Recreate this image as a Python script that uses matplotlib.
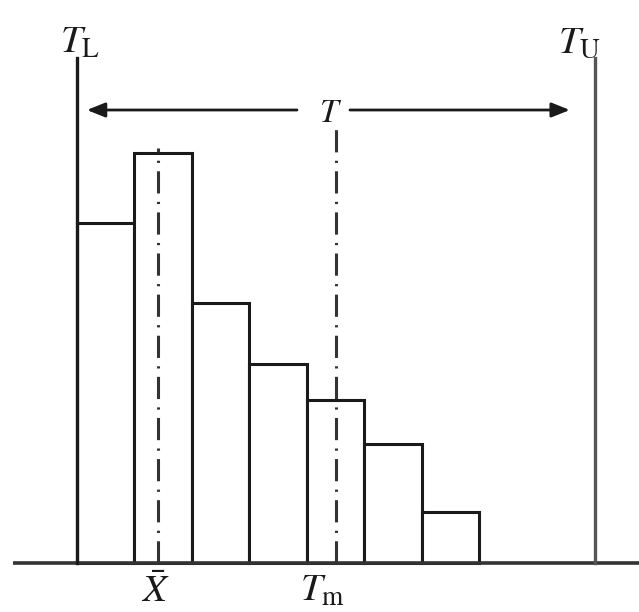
import numpy as np
import matplotlib.pyplot as plt

plt.rcParams['mathtext.fontset'] = 'stix'
plt.rcParams['lines.scale_dashes'] = False

# histogram bins (bin width = 1) and heights
edges = [0, 1, 2, 3, 4, 5, 6, 7]
heights = [34.0, 41.0, 26.0, 19.9, 16.3, 11.9, 5.1]

# tolerance limits, centre and mean
T_L = 0.0
T_U = 9.0
T_m = (T_L + T_U) / 2
X_bar = 1.42

fig = plt.figure(figsize=(6.39, 6.12), dpi=100)
ax = fig.add_axes([0, 0, 1, 1])
ax.set_xlim(-1.329, 9.771)
ax.set_ylim(-4.9, 56.3)
ax.axis('off')

ink = '#1a1a1a'
lw = 2.2

# bars
widths = np.diff(edges)
ax.bar(edges[:-1], heights, width=widths, align='edge',
       facecolor='white', edgecolor=ink, linewidth=lw, zorder=2)

# baseline
ax.plot([-1.1, 9.771], [0, 0], color='#333333', lw=2.6, zorder=3,
        solid_capstyle='butt')

# tolerance limit lines
ax.plot([T_L, T_L], [0, 50.5], color=ink, lw=2.4, zorder=3)
ax.plot([T_U, T_U], [0, 50.5], color='#555555', lw=2.4, zorder=3)

# centre lines (dash-dot)
dd = (0, (16, 6, 1.6, 6))
ax.plot([T_m, T_m], [0, 43.8], color='#333333', lw=2.2, linestyle=dd, zorder=4)
ax.plot([X_bar, X_bar], [0, 41.5], color='#333333', lw=2.2, linestyle=dd, zorder=4)

# tolerance range arrow
y_arr = 45.3
aprops = dict(arrowstyle='-|>,head_length=0.55,head_width=0.22',
              color=ink, lw=2.0, mutation_scale=20, shrinkA=0, shrinkB=0)
ax.annotate('', xy=(0.18, y_arr), xytext=(3.83, y_arr), arrowprops=aprops)
ax.annotate('', xy=(8.57, y_arr), xytext=(4.75, y_arr), arrowprops=aprops)

# labels
ax.text(0.06, 52.1, r'$T_{\mathrm{L}}$', fontsize=28, ha='center', va='center', color=ink)
ax.text(8.74, 52.1, r'$T_{\mathrm{U}}$', fontsize=28, ha='center', va='center', color=ink)
ax.text(4.42, 45.1, r'$T$', fontsize=24, ha='center', va='center', color=ink)
ax.text(1.36, -2.75, r'$\bar{X}$', fontsize=28, ha='center', va='center', color=ink)
ax.text(4.27, -2.7, r'$T_{\mathrm{m}}$', fontsize=28, ha='center', va='center', color=ink)

fig.savefig('out.png', dpi=100)
